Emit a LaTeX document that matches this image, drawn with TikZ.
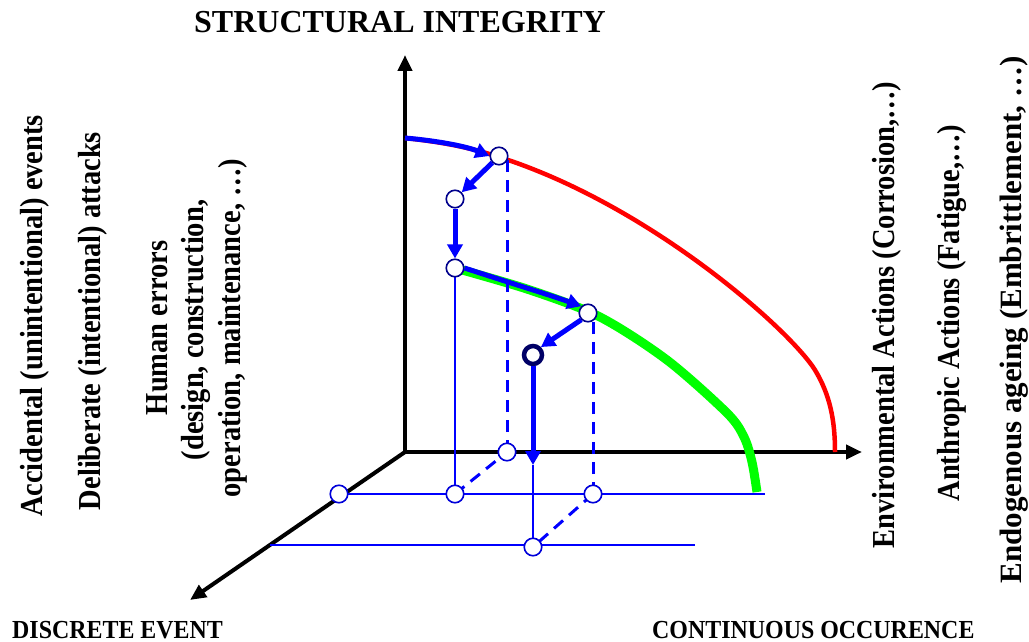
\documentclass[tikz,border=0pt]{standalone}
\usepackage{fontspec}
\setmainfont{Liberation Serif}
\newfontfamily\lblfont[FakeStretch=0.89]{Liberation Serif}
\newfontfamily\botfont[FakeStretch=0.92]{Liberation Serif}
\usetikzlibrary{arrows.meta,calc}
\begin{document}
\begin{tikzpicture}[x=1pt,y=-1pt,
  axis/.style={line width=4pt, line cap=rect, -{Triangle[length=16pt,width=14pt]}},
  redc/.style={red, line width=4.5pt},
  greenc/.style={green, line width=9pt},
  barrow/.style={blue, line width=5pt, -{Triangle[length=14pt,width=15pt]}},
  thinl/.style={blue, line width=1.6pt},
  dashl/.style={blue, line width=3pt, dash pattern=on 12pt off 8pt},
  pt/.style={circle, draw=blue!55!black, line width=1.6pt, fill=white, minimum size=17.5pt, inner sep=0pt},
  ptb/.style={pt, draw=blue!85!black},
  ptk/.style={circle, draw=blue!40!black, line width=4.5pt, fill=white, minimum size=18pt, inner sep=0pt},
  rlbl/.style={font=\lblfont\fontsize{32}{36}\selectfont\bfseries, rotate=90, anchor=base, inner sep=0pt},
  blbl/.style={font=\botfont\fontsize{26}{30}\selectfont\bfseries, anchor=base west, inner sep=0pt},
]
\useasboundingbox (0,0) rectangle (1029,642);
% coordinates
\coordinate (O) at (405,452);
\coordinate (Ytip) at (405,55);
\coordinate (Xtip) at (862,452);
\coordinate (Ztip) at (190,600);
\coordinate (S0) at (405,138);
\coordinate (A) at (499,156);
\coordinate (B) at (455,199);
\coordinate (C) at (455,268);
\coordinate (D) at (588,313);
\coordinate (E) at (533,355);
\coordinate (Tv) at (533,465);
\coordinate (P1) at (507,452);
\coordinate (P2) at (339,494);
\coordinate (P3) at (455,494);
\coordinate (P4) at (593,494);
\coordinate (P5) at (533,547);
\coordinate (H1e) at (765,494);
\coordinate (H2s) at (270,545);
\coordinate (H2e) at (695,545);
% axes
\draw[axis] (O) -- (Ytip);
\draw[axis] (O) -- (Xtip);
\draw[axis] (O) -- (Ztip);
% curves
\draw[redc] (S0) .. controls (440,142) and (465,146) .. (499,157)
  .. controls (650,205) and (790,330) .. (815,370)
  .. controls (830,395) and (835,420) .. (835,452);
\draw[greenc] plot[smooth, tension=0.5] coordinates {(455,268) (530,290) (600,317) (667,360) (727,413) (744,437) (752,462) (757,492)};
% thin and dashed projection lines
\draw[thinl] (P2) -- (H1e);
\draw[thinl] (H2s) -- (H2e);
\draw[thinl] (C) -- (P3);
\draw[thinl] (Tv) -- (P5);
\draw[dashl] (P1) -- ($(P1 |- A)+(0,4)$);
\draw[dashl] (P4) -- ($(P4 |- D)+(0,4)$);
\draw[dashl] (P3) -- (P1);
\draw[dashl] (P4) -- (P5);
% circles
\node[pt] (nA) at (A) {};
\node[pt] (nB) at (B) {};
\node[pt] (nC) at (C) {};
\node[pt] (nD) at (D) {};
\node[ptk] (nE) at (E) {};
\node[ptb] (nP1) at (P1) {};
\node[ptb] (nP2) at (P2) {};
\node[ptb] (nP3) at (P3) {};
\node[ptb] (nP4) at (P4) {};
\node[ptb] (nP5) at (P5) {};
% blue path arrows
\draw[barrow] (S0) .. controls (440,141) and (468,147) .. (nA.west);
\draw[barrow] (nA.south west) -- (nB.north east);
\draw[barrow] (nB.south) -- (nC.north);
\draw[barrow] (nC.east) .. controls (510,283) and (550,295) .. (nD.north west);
\draw[barrow] (nD.south west) -- (nE.north east);
\draw[barrow] (nE.south) -- (Tv);
% labels
\node[font=\fontsize{32}{36}\selectfont\bfseries, anchor=base] (title) at (400,33) {STRUCTURAL INTEGRITY};
\node[blbl] (disc) at (12,638) {DISCRETE EVENT};
\node[blbl] (cont) at (652,638) {CONTINUOUS OCCURENCE};
\node[rlbl] (acc) at (42,316) {Accidental (unintentional) events};
\node[rlbl] (del) at (100,321) {Deliberate (intentional) attacks};
\node[rlbl] (hum1) at (167,328) {Human errors};
\node[rlbl] (hum2) at (203,330) {(design, construction,};
\node[rlbl] (hum3) at (240,328) {operation, maintenance, …)};
\node[rlbl] (env) at (894,315) {Environmental Actions (Corrosion,…)};
\node[rlbl] (ant) at (959,313) {Anthropic Actions (Fatigue,…)};
\node[rlbl, font=\fontsize{31}{36}\selectfont\bfseries] (endo) at (1021,320) {Endogenous ageing (Embrittlement, …)};
\end{tikzpicture}
\end{document}
